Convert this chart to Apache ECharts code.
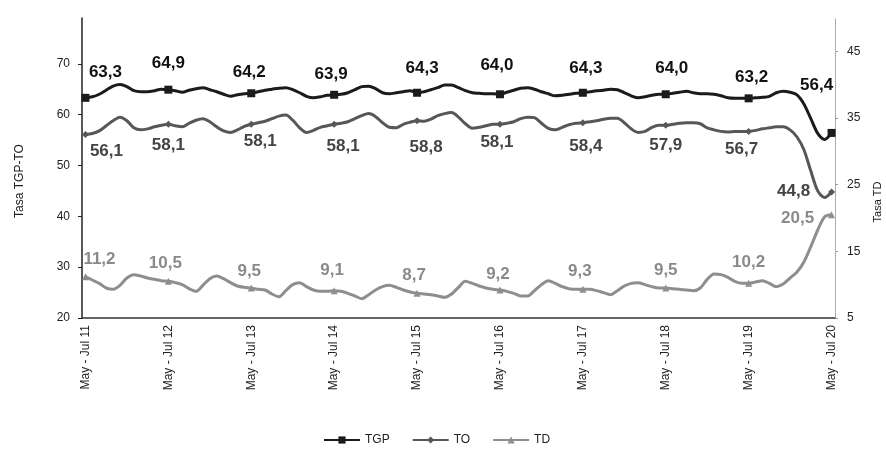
<!DOCTYPE html>
<html><head><meta charset="utf-8">
<script src="https://cdn.jsdelivr.net/npm/echarts@6/dist/echarts.min.js"></script>
<style>html,body{margin:0;padding:0;background:#fff}#c{width:886px;height:452px}</style>
</head><body><div id="c"></div>
<script>
const categories = [
"May - Jul 11","Jun - Ago 11","Jul - Sep 11","Ago - Oct 11","Sep - Nov 11","Oct - Dic 11","Nov - Ene 12","Dic - Feb 12","Ene - Mar 12","Feb - Abr 12","Mar - May 12","Abr - Jun 12",
"May - Jul 12","Jun - Ago 12","Jul - Sep 12","Ago - Oct 12","Sep - Nov 12","Oct - Dic 12","Nov - Ene 13","Dic - Feb 13","Ene - Mar 13","Feb - Abr 13","Mar - May 13","Abr - Jun 13",
"May - Jul 13","Jun - Ago 13","Jul - Sep 13","Ago - Oct 13","Sep - Nov 13","Oct - Dic 13","Nov - Ene 14","Dic - Feb 14","Ene - Mar 14","Feb - Abr 14","Mar - May 14","Abr - Jun 14",
"May - Jul 14","Jun - Ago 14","Jul - Sep 14","Ago - Oct 14","Sep - Nov 14","Oct - Dic 14","Nov - Ene 15","Dic - Feb 15","Ene - Mar 15","Feb - Abr 15","Mar - May 15","Abr - Jun 15",
"May - Jul 15","Jun - Ago 15","Jul - Sep 15","Ago - Oct 15","Sep - Nov 15","Oct - Dic 15","Nov - Ene 16","Dic - Feb 16","Ene - Mar 16","Feb - Abr 16","Mar - May 16","Abr - Jun 16",
"May - Jul 16","Jun - Ago 16","Jul - Sep 16","Ago - Oct 16","Sep - Nov 16","Oct - Dic 16","Nov - Ene 17","Dic - Feb 17","Ene - Mar 17","Feb - Abr 17","Mar - May 17","Abr - Jun 17",
"May - Jul 17","Jun - Ago 17","Jul - Sep 17","Ago - Oct 17","Sep - Nov 17","Oct - Dic 17","Nov - Ene 18","Dic - Feb 18","Ene - Mar 18","Feb - Abr 18","Mar - May 18","Abr - Jun 18",
"May - Jul 18","Jun - Ago 18","Jul - Sep 18","Ago - Oct 18","Sep - Nov 18","Oct - Dic 18","Nov - Ene 19","Dic - Feb 19","Ene - Mar 19","Feb - Abr 19","Mar - May 19","Abr - Jun 19",
"May - Jul 19","Jun - Ago 19","Jul - Sep 19","Ago - Oct 19","Sep - Nov 19","Oct - Dic 19","Nov - Ene 20","Dic - Feb 20","Ene - Mar 20","Feb - Abr 20","Mar - May 20","Abr - Jun 20",
"May - Jul 20"
];

const tgp = [
63.3, 63.5, 64.0, 64.8, 65.6, 65.9, 65.5, 64.7, 64.5, 64.5, 64.7, 65.0,
64.9, 64.7, 64.4, 64.8, 65.1, 65.3, 64.9, 64.5, 64.0, 63.6, 63.9, 64.1,
64.2, 64.5, 64.8, 65.0, 65.2, 65.3, 64.9, 64.3, 63.6, 63.3, 63.5, 63.8,
63.9, 64.0, 64.3, 64.9, 65.5, 65.6, 65.1, 64.3, 64.1, 64.3, 64.5, 64.7,
64.3, 64.5, 64.9, 65.3, 65.8, 65.8, 65.3, 64.7, 64.3, 64.2, 64.1, 64.1,
64.0, 64.4, 64.8, 65.2, 65.3, 65.0, 64.5, 64.1, 63.7, 63.8, 64.0, 64.2,
64.3, 64.5, 64.7, 64.8, 65.0, 64.9, 64.3, 63.7, 63.3, 63.5, 63.8, 64.0,
64.0, 64.2, 64.4, 64.6, 64.3, 64.1, 64.1, 64.0, 63.7, 63.3, 63.2, 63.2,
63.2, 63.3, 63.4, 63.6, 64.3, 64.6, 64.4, 63.9, 62.1, 59.2, 56.3, 55.1,
56.4
];

const to = [
56.1, 56.3, 56.8, 57.8, 58.8, 59.5, 58.8, 57.4, 57.0, 57.2, 57.6, 57.9,
58.1, 57.8, 57.6, 58.3, 58.9, 59.2, 58.6, 57.6, 56.8, 56.5, 57.0, 57.7,
58.1, 58.4, 58.7, 59.2, 59.7, 59.9, 58.9, 57.4, 56.5, 56.9, 57.5, 57.8,
58.1, 58.3, 58.6, 59.2, 59.8, 60.2, 59.6, 58.4, 57.5, 57.4, 58.1, 58.5,
58.8, 58.7, 59.1, 59.8, 60.2, 60.4, 59.5, 58.2, 57.3, 57.5, 57.8, 58.1,
58.1, 58.3, 58.6, 59.2, 59.5, 59.4, 58.3, 57.3, 57.0, 57.5, 58.0, 58.3,
58.4, 58.6, 58.8, 59.1, 59.3, 59.3, 58.4, 57.2, 56.5, 56.7, 57.5, 57.9,
57.9, 58.1, 58.3, 58.4, 58.4, 58.2, 57.4, 57.0, 56.7, 56.6, 56.7, 56.7,
56.7, 56.9, 57.2, 57.4, 57.6, 57.6, 57.0, 55.6, 53.1, 48.9, 45.0, 43.7,
44.8
];

const td = [
11.2, 10.7, 10.2, 9.5, 9.3, 9.9, 11.0, 11.5, 11.3, 11.0, 10.8, 10.6,
10.5, 10.3, 10.0, 9.4, 9.0, 9.9, 10.9, 11.3, 10.9, 10.3, 9.8, 9.6,
9.5, 9.3, 9.2, 8.6, 8.2, 9.1, 10.0, 10.3, 9.7, 9.2, 9.0, 9.0,
9.1, 9.0, 8.7, 8.3, 7.9, 8.5, 9.2, 9.7, 9.9, 9.6, 9.2, 8.9,
8.7, 8.6, 8.5, 8.3, 8.1, 8.6, 9.6, 10.5, 10.2, 9.8, 9.5, 9.3,
9.2, 9.0, 8.7, 8.3, 8.3, 9.1, 10.0, 10.6, 10.2, 9.7, 9.4, 9.3,
9.3, 9.3, 9.1, 8.8, 8.5, 9.1, 9.8, 10.2, 10.3, 10.0, 9.7, 9.5,
9.5, 9.4, 9.3, 9.2, 9.1, 9.5, 10.8, 11.6, 11.5, 11.1, 10.5, 10.2,
10.2, 10.4, 10.6, 10.2, 9.7, 10.1, 11.0, 11.9, 13.4, 15.7, 18.2, 20.2,
20.5
];

const leftTicks = [20, 30, 40, 50, 60, 70];
const rightTicks = [5, 15, 25, 35, 45];
const seriesNames = ['TGP', 'TO', 'TD'];
const axisNames = ['Tasa TGP-TO', 'Tasa TD'];

// ---- styling (not data) ----
const FONT = '"Liberation Sans", Arial, sans-serif';
const LABEL_STEP = 12;
const tgpOffsets = [[20,-26],[0,-26],[-2,-21],[-3,-20],[5,-24],[-3,-29],[3,-24],[6,-26],[3,-21],[-15,-48]];
const toOffsets  = [[21,17],[0,21],[9,17],[9,22],[9,27],[-3,18],[3,24],[0,20],[-7,18],[-38,-1]];
const tdOffsets  = [[14,-17],[-3,-18],[-2,-17],[-2,-20],[-3,-18],[-2,-16],[-3,-18],[0,-18],[0,-21],[-34,4]];

function fmt(v) { return v.toFixed(1).replace('.', ','); }

function build(values, symbol, size, offsets) {
  return values.map(function (v, i) {
    if (i % LABEL_STEP === 0) {
      return { value: v, symbol: symbol, symbolSize: size,
        label: { show: true, position: 'inside', offset: offsets[i / LABEL_STEP] } };
    }
    return { value: v, symbol: 'none', label: { show: false } };
  });
}

function lineSeries(name, values, yIdx, color, labelColor, symbol, size, offsets, width) {
  return {
    name: name, type: 'line', yAxisIndex: yIdx,
    data: build(values, symbol, size, offsets),
    symbol: symbol, symbolSize: size, showAllSymbol: true,
    smooth: 0.3,
    lineStyle: { color: color, width: width },
    itemStyle: { color: color, borderWidth: 0 },
    label: { formatter: function (p) { return fmt(p.value); }, fontSize: 17, fontWeight: 'bold',
      color: labelColor, fontFamily: FONT },
    emphasis: { disabled: true },
    z: yIdx === 1 ? 2 : 3
  };
}

const chart = echarts.init(document.getElementById('c'), null, { renderer: 'canvas' });
chart.setOption({
  backgroundColor: '#ffffff',
  animation: false,
  textStyle: { fontFamily: FONT },
  grid: { left: 82, right: 51, top: 18, bottom: 134, containLabel: false },
  legend: {
    data: seriesNames, left: 318, top: 429, itemWidth: 36, itemHeight: 9, itemGap: 22,
    textStyle: { fontSize: 12, color: '#222', fontFamily: FONT }
  },
  xAxis: {
    type: 'category', data: categories, boundaryGap: true,
    axisLine: { lineStyle: { color: '#333', width: 1.5 } },
    axisTick: { interval: 7, length: 5, lineStyle: { color: '#333' } },
    axisLabel: { interval: 11, rotate: 90, margin: 7, fontSize: 12, color: '#222', fontFamily: FONT },
    splitLine: { show: false }
  },
  yAxis: [
    { type: 'value', position: 'left', min: 20, max: 79,
      axisLine: { show: true, lineStyle: { color: '#222', width: 1.5 } },
      axisTick: { show: true, customValues: leftTicks, length: 4, lineStyle: { color: '#222' } },
      axisLabel: { customValues: leftTicks, margin: 12, fontSize: 12, color: '#222', fontFamily: FONT },
      splitLine: { show: false } },
    { type: 'value', position: 'right', min: 5, max: 50,
      axisLine: { show: true, lineStyle: { color: '#9a9a9a', width: 1, type: 'dotted' } },
      axisTick: { show: true, customValues: rightTicks, length: 3, lineStyle: { color: '#9a9a9a' } },
      axisLabel: { customValues: rightTicks, margin: 12, fontSize: 12, color: '#222', fontFamily: FONT },
      splitLine: { show: false } }
  ],
  graphic: [
    { type: 'text', x: 20, y: 181, rotation: Math.PI / 2,
      style: { text: axisNames[0], fontSize: 12, fill: '#222', align: 'center', verticalAlign: 'middle', fontFamily: FONT } },
    { type: 'text', x: 878, y: 202, rotation: Math.PI / 2,
      style: { text: axisNames[1], fontSize: 11, fill: '#222', align: 'center', verticalAlign: 'middle', fontFamily: FONT } }
  ],
  series: [
    lineSeries(seriesNames[0], tgp, 0, '#1b1b1b', '#111111', 'rect', 8, tgpOffsets, 3),
    lineSeries(seriesNames[1], to, 0, '#575757', '#444444', 'diamond', 7, toOffsets, 3),
    lineSeries(seriesNames[2], td, 1, '#8e8e8e', '#8a8a8a', 'triangle', 7, tdOffsets, 3)
  ]
});
</script>
</body></html>
